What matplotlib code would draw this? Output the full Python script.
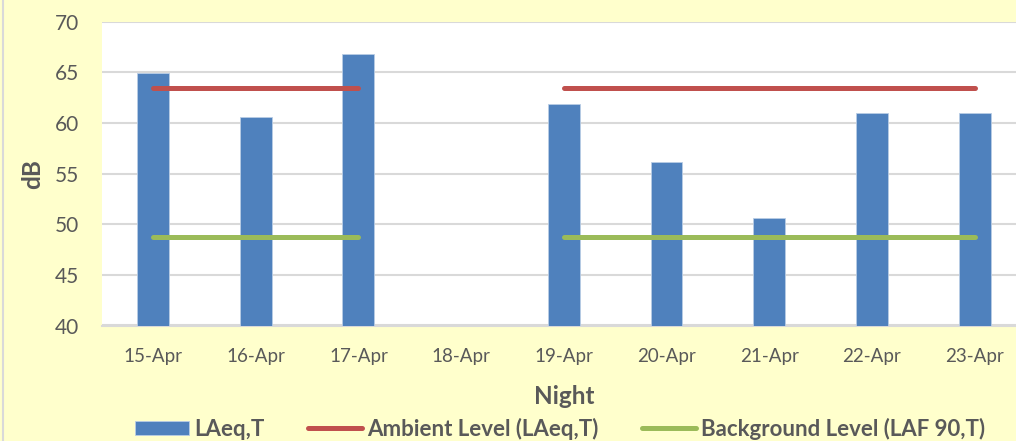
import numpy as np
import matplotlib.pyplot as plt
from matplotlib.lines import Line2D

plt.rcParams['font.family'] = ['Lato', 'DejaVu Sans']

nights = ['15-Apr', '16-Apr', '17-Apr', '18-Apr', '19-Apr',
          '20-Apr', '21-Apr', '22-Apr', '23-Apr']
laeq = [64.9, 60.6, 66.8, np.nan, 61.9, 56.1, 50.6, 61.0, 61.0]
ambient = [63.4, 63.4, 63.4, np.nan, 63.4, 63.4, 63.4, 63.4, 63.4]
background = [48.7, 48.7, 48.7, np.nan, 48.7, 48.7, 48.7, 48.7, 48.7]

W, H = 1016, 441
fig = plt.figure(figsize=(W / 100, H / 100), dpi=100)
fig.patch.set_facecolor('#FFFFCC')

# plot area runs past the right edge, like the cropped original
left, right, top, bottom = 101.6, 1026, 21.5, 325.5
ax = fig.add_axes([left / W, 1 - bottom / H, (right - left) / W, (bottom - top) / H])
ax.set_facecolor('white')

x = np.arange(len(nights))
bars = ax.bar(x, laeq, width=0.31, color='#4F81BD', edgecolor='#B9CDE5',
              linewidth=0.6, label='LAeq,T', zorder=3)
l1, = ax.plot(x, ambient, color='#C0504D', lw=3.6, solid_capstyle='round',
              label='Ambient Level (LAeq,T)', zorder=4)
l2, = ax.plot(x, background, color='#9BBB59', lw=3.6, solid_capstyle='round',
              label='Background Level (LAF 90,T)', zorder=4)

ax.set_xlim(-0.5, len(nights) - 0.5)
ax.set_ylim(40, 70)
ax.set_yticks(range(40, 71, 5))
ax.set_xticks(x)
ax.set_xticklabels(nights)
ax.yaxis.grid(True, color='#D9D9D9', lw=1.5, zorder=0)
ax.set_axisbelow(True)
for s in ['left', 'right', 'top']:
    ax.spines[s].set_visible(False)
ax.spines['bottom'].set_color('#D9D9D9')
ax.spines['bottom'].set_linewidth(1.5)
ax.tick_params(length=0, labelsize=13.5, labelcolor='#595959')
ax.tick_params(axis='x', pad=16)
ax.tick_params(axis='y', pad=16.5, labelsize=15)

fig.text(564 / W, 1 - 396 / H, 'Night', ha='center', va='center',
         fontsize=17.5, fontweight='bold', color='#595959')
fig.text(33 / W, 1 - 174 / H, 'dB', ha='center', va='center', rotation=90,
         fontsize=17.5, fontweight='bold', color='#595959')

fig.add_artist(Line2D([3 / W, 3 / W], [0, 1], color='#D9D9D9', lw=1.5))

fig.legend(handles=[bars, l1, l2], loc='center',
           bbox_to_anchor=(560 / W, 1 - 429 / H), ncol=3,
           frameon=False, handlelength=2.43, handleheight=0.63, columnspacing=1.95,
           handletextpad=0.23, prop={'weight': 'bold', 'size': 16},
           labelcolor='#595959')

fig.savefig('out.png', dpi=100, facecolor=fig.get_facecolor())
